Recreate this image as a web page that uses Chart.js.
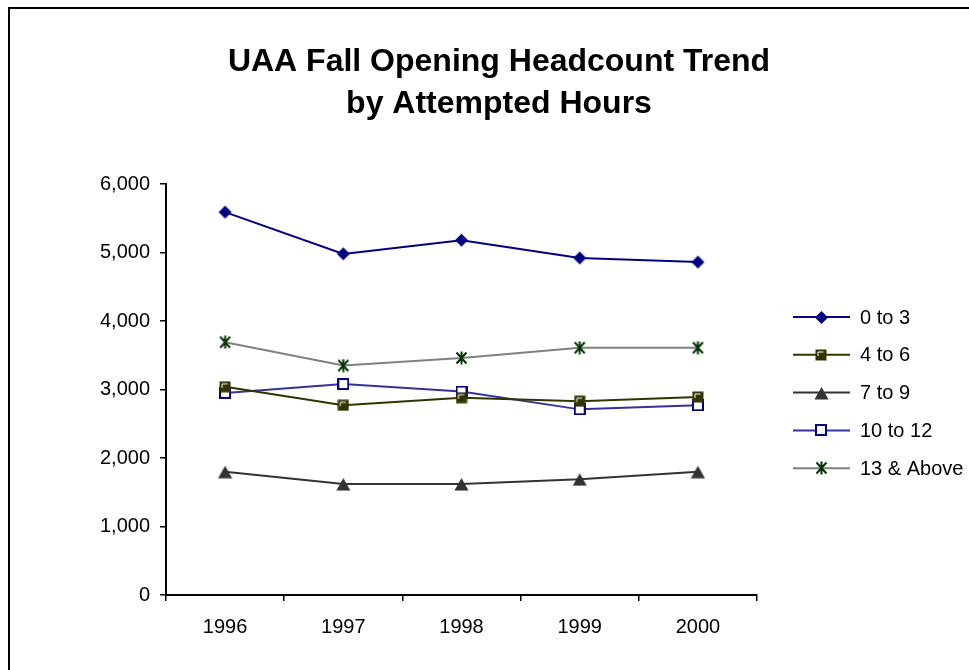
<!DOCTYPE html>
<html>
<head>
<meta charset="utf-8">
<script src="https://cdn.jsdelivr.net/npm/chart.js@4.4.1/dist/chart.umd.min.js"></script>
<style>
  html, body { margin: 0; padding: 0; background: #fff; }
  #wrap { width: 969px; height: 670px; position: relative; }
</style>
</head>
<body>
<div id="wrap"><canvas id="chart" width="969" height="670"></canvas></div>
<script>
// Values
const years = ['1996', '1997', '1998', '1999', '2000'];
const seriesNames = ['0 to 3', '4 to 6', '7 to 9', '10 to 12', '13 & Above'];
const hours0to3 = [5590, 4980, 5180, 4920, 4860];
const hours4to6 = [3040, 2770, 2880, 2830, 2890];
const hours7to9 = [1800, 1620, 1620, 1690, 1800];
const hours10to12 = [2950, 3080, 2970, 2710, 2770];
const hours13up = [3690, 3350, 3460, 3610, 3610];
const yTicks = [0, 1000, 2000, 3000, 4000, 5000, 6000];
const titleLines = ['UAA Fall Opening Headcount Trend', 'by Attempted Hours'];

const FONT = 'Arial, "Liberation Sans", sans-serif';

// little marker images, Excel style
function makeMarker(w, h, draw) {
    let c = document.createElement('canvas');
    c.width = w;
    c.height = h;
    draw(c.getContext('2d'));
    return c;
}

const diamond = makeMarker(15, 15, ctx => {
    ctx.fillStyle = '#000080';
    ctx.beginPath();
    ctx.moveTo(7.5, 1);
    ctx.lineTo(14, 7.5);
    ctx.lineTo(7.5, 14);
    ctx.lineTo(1, 7.5);
    ctx.closePath();
    ctx.fill();
});

const oliveSquare = makeMarker(12, 12, ctx => {
    ctx.fillStyle = '#333300';
    ctx.fillRect(0.5, 0.5, 11, 11);
    ctx.strokeStyle = '#fff';
    ctx.lineWidth = 1;
    ctx.beginPath();
    ctx.moveTo(3, 7);
    ctx.lineTo(3, 3);
    ctx.lineTo(8.5, 3);
    ctx.stroke();
});

const triangle = makeMarker(15, 14, ctx => {
    ctx.fillStyle = '#333333';
    ctx.beginPath();
    ctx.moveTo(7.5, 1);
    ctx.lineTo(14.5, 13.5);
    ctx.lineTo(0.5, 13.5);
    ctx.closePath();
    ctx.fill();
});

const hollowSquare = makeMarker(12, 12, ctx => {
    ctx.fillStyle = '#fff';
    ctx.fillRect(1, 1, 10, 10);
    ctx.strokeStyle = '#000080';
    ctx.lineWidth = 2;
    ctx.strokeRect(1, 1, 10, 10);
});

const asterisk = makeMarker(13, 14, ctx => {
    ctx.strokeStyle = '#003300';
    ctx.lineWidth = 2;
    ctx.beginPath();
    ctx.moveTo(1.5, 1.5); ctx.lineTo(11.5, 12.5);
    ctx.moveTo(11.5, 1.5); ctx.lineTo(1.5, 12.5);
    ctx.moveTo(6.5, 0.5); ctx.lineTo(6.5, 13.5);
    ctx.stroke();
});

function makeSet(i, data, lineColor, marker) {
    return {
        label: seriesNames[i],
        data: data,
        borderColor: lineColor,
        backgroundColor: lineColor,
        borderWidth: 2,
        pointStyle: marker,
        pointRadius: 7,
        pointHoverRadius: 7,
        tension: 0,
    };
}

const datasets = [
    makeSet(0, hours0to3, '#000080', diamond),
    makeSet(1, hours4to6, '#333300', oliveSquare),
    makeSet(2, hours7to9, '#333333', triangle),
    makeSet(3, hours10to12, '#333399', hollowSquare),
    makeSet(4, hours13up, '#808080', asterisk),
];

// frame, title and legend drawn by hand so they sit where Excel put them
const decorations = {
    id: 'decorations',
    afterDraw(chart) {
        let ctx = chart.ctx;
        ctx.save();

        ctx.strokeStyle = '#000';
        ctx.lineWidth = 2;
        ctx.strokeRect(9, 8, 1200, 1200);

        ctx.fillStyle = '#000';
        ctx.font = 'bold 32px ' + FONT;
        ctx.textAlign = 'center';
        ctx.textBaseline = 'middle';
        titleLines.forEach((line, i) => ctx.fillText(line, 499, 62 + i * 42));

        ctx.font = '20px ' + FONT;
        ctx.textAlign = 'left';
        chart.data.datasets.forEach((ds, i) => {
            let y = 317 + i * 37.8;
            ctx.strokeStyle = ds.borderColor;
            ctx.lineWidth = 2;
            ctx.beginPath();
            ctx.moveTo(793, y);
            ctx.lineTo(850, y);
            ctx.stroke();
            let m = ds.pointStyle;
            ctx.drawImage(m, Math.round(821 - m.width / 2), Math.round(y - m.height / 2));
            ctx.fillStyle = '#000';
            ctx.fillText(ds.label, 860, y + 1);
        });
        ctx.restore();
    }
};

let ctx = document.getElementById('chart').getContext('2d');
new Chart(ctx, {
    type: 'line',
    data: { labels: years, datasets: datasets },
    options: {
        responsive: false,
        animation: false,
        layout: { padding: { top: 184, right: 212, left: 0, bottom: 0 } },
        plugins: {
            legend: { display: false },
            title: { display: false },
            tooltip: { enabled: false },
        },
        scales: {
            x: {
                offset: true,
                grid: { offset: true, drawOnChartArea: false, drawTicks: true, tickLength: 6, color: '#000', lineWidth: 1.5 },
                border: { color: '#000', width: 2 },
                ticks: { color: '#000', font: { family: FONT, size: 20 }, padding: 14, maxRotation: 0 },
                afterFit: scale => { scale.height = 75; },
            },
            y: {
                min: 0,
                max: 6000,
                afterBuildTicks: scale => { scale.ticks = yTicks.map(v => ({ value: v })); },
                grid: { drawOnChartArea: false, drawTicks: true, tickLength: 6, color: '#000', lineWidth: 1.5 },
                border: { color: '#000', width: 2 },
                ticks: {
                    color: '#000',
                    font: { family: FONT, size: 20 },
                    padding: 10,
                    callback: v => v.toLocaleString('en-US'),
                },
                afterFit: scale => { scale.width = 166; },
            },
        },
    },
    plugins: [decorations],
});
</script>
</body>
</html>
